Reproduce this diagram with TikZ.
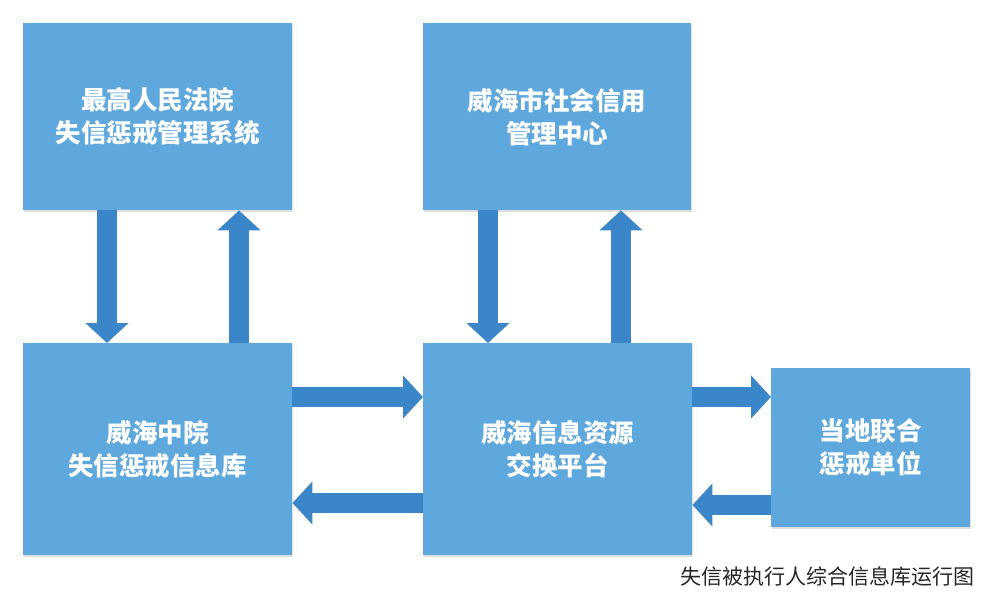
\documentclass[tikz,border=0pt]{standalone}
\usepackage{fontspec}
\newfontfamily\cjk{Noto Sans CJK SC}
\usetikzlibrary{arrows.meta, shadows}
\definecolor{boxblue}{RGB}{94,168,221}
\definecolor{flowblue}{RGB}{58,134,200}

\begin{document}
\begin{tikzpicture}[x=1pt, y=-1pt,
  unit/.style = {fill=boxblue, text=white, anchor=north west, inner sep=0pt, align=center,
    font=\cjk\bfseries\fontsize{25.5}{33}\selectfont,
    drop shadow={shadow xshift=1pt, shadow yshift=-1.5pt, opacity=.25}},
  flow/.style = {draw=flowblue, line width=20pt, -{Triangle[width=42pt, length=20pt]}}]
\useasboundingbox (0,0) rectangle (992,595);
\node[unit, minimum width=269pt, minimum height=187pt] (sup) at (23,23) {最高人民法院\\失信惩戒管理系统};
\node[unit, minimum width=268pt, minimum height=187pt] (cred) at (423,23) {威海市社会信用\\管理中心};
\node[unit, minimum width=269pt, minimum height=212pt] (mid) at (23,343) {威海中院\\失信惩戒信息库};
\node[unit, minimum width=269pt, minimum height=212pt] (xchg) at (423,343) {威海信息资源\\交换平台};
\node[unit, minimum width=199pt, minimum height=159pt] (lian) at (771,368) {当地联合\\惩戒单位};
\node[anchor=east, text=black!85, font=\cjk\fontsize{21}{21}\selectfont] (cap) at (978,576) {失信被执行人综合信息库运行图};
% up and down
\draw[flow] ([xshift=84pt]sup.south west) -- ([xshift=84pt]mid.north west);
\draw[flow] ([xshift=216pt]mid.north west) -- ([xshift=216pt]sup.south west);
\draw[flow] ([xshift=65pt]cred.south west) -- ([xshift=65pt]xchg.north west);
\draw[flow] ([xshift=198pt]xchg.north west) -- ([xshift=198pt]cred.south west);
% left and right
\draw[flow] ([yshift=-54pt]mid.north east) -- ([yshift=-54pt]xchg.north west);
\draw[flow] ([yshift=-160pt]xchg.north west) -- ([yshift=-160pt]mid.north east);
\draw[flow] ([yshift=-54pt]xchg.north east) -- ([yshift=-29pt]lian.north west);
\draw[flow] ([yshift=-137pt]lian.north west) -- ([yshift=-162pt]xchg.north east);
\end{tikzpicture}
\end{document}
